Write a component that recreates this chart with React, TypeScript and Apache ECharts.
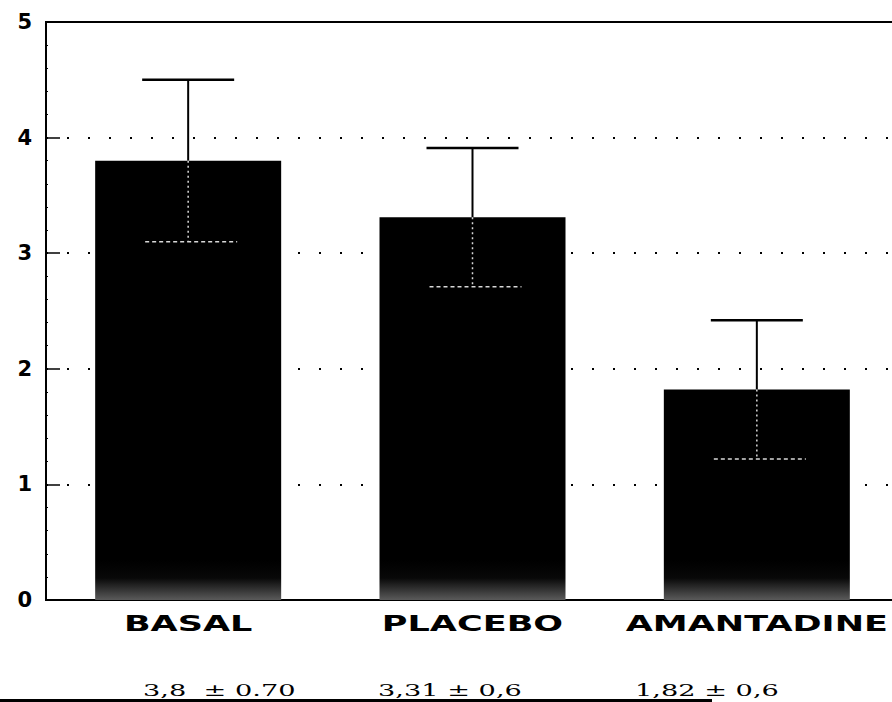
import React, { useEffect, useRef } from "react";
import * as echarts from "echarts";

// Group names, means and standard deviations
const groups = ["BASAL", "PLACEBO", "AMANTADINE"];
const means = [3.8, 3.31, 1.82];
const sds = [0.7, 0.6, 0.6];

// Summary line printed under the chart
const summaryLabels = ["3,8  \u00b1 0.70", "3,31 \u00b1 0,6", "1,82 \u00b1 0,6"];
const summaryX = [143, 378, 635];

// Value axis range
const yMin = 0;
const yMax = 5;
const yStep = 1;

const HEAVY = "'DejaVu Sans', 'Liberation Sans', sans-serif";
const SERIF = "'DejaVu Serif', 'Liberation Serif', serif";

export default function App() {
  const ref = useRef<HTMLDivElement>(null);

  useEffect(() => {
    if (!ref.current) return;
    const chart = echarts.init(ref.current, undefined, { renderer: "svg" });

    // Solid black bars that fade to a grey band just above the baseline
    const barColor = new echarts.graphic.LinearGradient(
      0,
      560,
      0,
      600,
      [
        { offset: 0, color: "#000" },
        { offset: 0.45, color: "#080808" },
        { offset: 1, color: "#5a5a5a" },
      ],
      true
    );

    chart.setOption({
      animation: false,
      backgroundColor: "#fff",
      grid: {
        left: 46,
        top: 22,
        bottom: 102,
        width: 853,
        outerBoundsMode: "none",
        containLabel: false,
        show: true,
        borderColor: "#000",
        borderWidth: 2,
      },
      xAxis: {
        type: "category",
        data: groups,
        axisLine: { show: true, lineStyle: { color: "#000", width: 2 } },
        axisTick: { show: false },
        axisLabel: { show: false },
        splitLine: { show: false },
      },
      yAxis: {
        type: "value",
        min: yMin,
        max: yMax,
        interval: yStep,
        axisLine: { show: true, lineStyle: { color: "#000", width: 2 } },
        axisTick: { show: true, inside: true, length: 14, lineStyle: { color: "#000", width: 1.5 } },
        minorTick: { show: true, splitNumber: 5, length: 2, lineStyle: { color: "#000", width: 1 } },
        axisLabel: {
          color: "#000",
          fontFamily: HEAVY,
          fontWeight: "bold",
          fontSize: 21,
          margin: 14,
        },
        splitLine: {
          show: true,
          lineStyle: { color: "#000", width: 2, type: [2, 19] },
        },
      },
      series: [
        {
          type: "bar",
          data: means,
          barWidth: 186,
          itemStyle: { color: barColor },
          z: 2,
        },
        {
          type: "custom",
          data: means.map((m, i) => [i, m, sds[i]]),
          encode: { x: 0, y: 1 },
          clip: false,
          z: 3,
          renderItem: (params: any, api: any) => {
            const i = api.value(0);
            const m = api.value(1);
            const s = api.value(2);
            const top = api.coord([i, m + s]);
            const mid = api.coord([i, m]);
            const low = api.coord([i, m - s]);
            const base = api.coord([i, 0]);
            const cx = top[0];
            const cap = 46;
            return {
              type: "group",
              children: [
                {
                  type: "line",
                  shape: { x1: cx, y1: mid[1], x2: cx, y2: top[1] },
                  style: { stroke: "#000", lineWidth: 2 },
                },
                {
                  type: "line",
                  shape: { x1: cx - cap, y1: top[1], x2: cx + cap, y2: top[1] },
                  style: { stroke: "#000", lineWidth: 2.5 },
                },
                {
                  type: "line",
                  shape: { x1: cx, y1: mid[1], x2: cx, y2: low[1] },
                  style: { stroke: "#d8d8d8", lineWidth: 1.5, lineDash: [2, 3] },
                },
                {
                  type: "line",
                  shape: { x1: cx - cap + 3, y1: low[1], x2: cx + cap + 3, y2: low[1] },
                  style: { stroke: "#d8d8d8", lineWidth: 1.5, lineDash: [4, 3] },
                },
                {
                  type: "text",
                  x: cx,
                  y: base[1] + 24,
                  scaleX: 1.67,
                  style: {
                    x: 0,
                    y: 0,
                    text: groups[i],
                    fill: "#000",
                    font: `bold 21px ${HEAVY}`,
                    align: "center",
                    verticalAlign: "middle",
                  },
                },
              ],
            };
          },
        },
      ],
      graphic: [
        ...summaryLabels.map((t, i) => ({
          type: "text",
          x: summaryX[i],
          y: 690,
          scaleX: 1.6,
          style: {
            x: 0,
            y: 0,
            text: t,
            fill: "#000",
            font: `17px ${SERIF}`,
            align: "left",
            verticalAlign: "middle",
          },
        })),
        {
          type: "line",
          shape: { x1: 0, y1: 700.5, x2: 712, y2: 700.5 },
          style: { stroke: "#000", lineWidth: 3 },
        },
      ],
    });

    return () => chart.dispose();
  }, []);

  return (
    <div
      ref={ref}
      style={{ position: "fixed", left: 0, top: 0, width: 892, height: 702, background: "#fff" }}
    />
  );
}
